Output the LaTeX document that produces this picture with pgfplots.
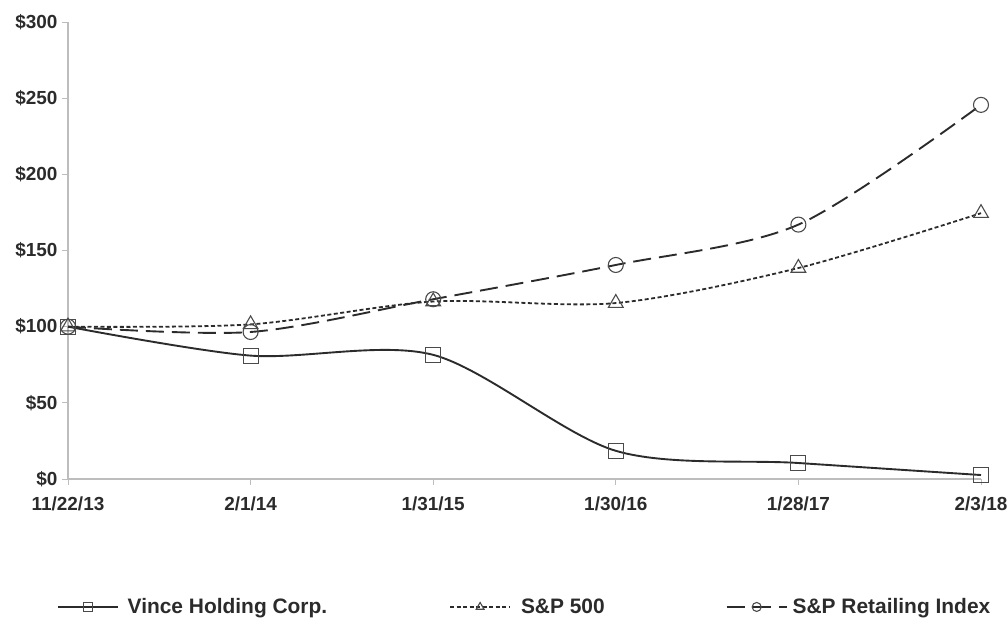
\documentclass[border=0pt]{standalone}
\usepackage{pgfplots}
\pgfplotsset{compat=1.18}
\usepackage{fontspec}
\setmainfont{Liberation Sans}
\definecolor{axisgray}{HTML}{BDBDBD}
\definecolor{ink}{HTML}{2B2B2B}
\definecolor{markgray}{HTML}{4A4A4A}
\begin{document}
\begin{tikzpicture}
\path[use as bounding box] (-68bp,-142bp) rectangle (940bp,479bp);
\begin{axis}[
  at={(0,0)}, anchor=south west,
  scale only axis,
  width=913bp, height=457bp,
  xmin=0, xmax=5, ymin=0, ymax=300,
  xtick={0,...,5},
  xticklabels={11/22/13,2/1/14,1/31/15,1/30/16,1/28/17,2/3/18},
  ytick={0,50,...,300},
  yticklabel={\$\pgfmathprintnumber{\tick}},
  /pgf/number format/assume math mode=true,
  axis x line*=bottom, axis y line*=left,
  axis line style={axisgray, line width=1.3pt, -},
  tick style={axisgray, line width=1pt},
  major tick length=6bp,
  xtick align=outside, ytick align=outside,
  ticklabel style={font=\fontsize{19}{21}\selectfont\bfseries, text=ink},
  xticklabel style={yshift=-8bp},
  yticklabel style={xshift=-1bp},
  clip=false,
  legend columns=3,
  legend style={at={(-0.0125,-0.28)}, anchor=west, draw=none, fill=none,
    inner sep=0pt, nodes={inner sep=0pt},
    font=\fontsize{21}{24}\selectfont\bfseries, text=ink,
    /tikz/column 1/.style={column sep=9bp},
    /tikz/column 2/.style={column sep=122bp},
    /tikz/column 3/.style={column sep=10bp},
    /tikz/column 4/.style={column sep=121bp},
    /tikz/column 5/.style={column sep=5bp}},
  legend image code/.code={
    \draw[#1, mark=none] (0bp,0bp) -- (60bp,0bp);
    \draw[#1, mark size=4.5bp] plot coordinates {(30bp,0bp)};
  },
]
\addplot[ink, line width=1.9pt, smooth, mark=square, mark size=7.5bp,
  mark options={solid, draw=markgray, line width=1.1pt, fill=none}]
  coordinates {(0,100) (1,81) (2,81.5) (3,18.5) (4,10.5) (5,2.6)};
\addplot[ink, line width=1.8pt, smooth, dash pattern=on 4bp off 2.5bp,
  mark=triangle, mark size=8.5bp,
  mark options={solid, draw=markgray, line width=1.1pt, fill=none}]
  coordinates {(0,100) (1,101.5) (2,116.5) (3,115.5) (4,138.5) (5,174.5)};
\addplot[ink, line width=1.9pt, smooth, dash pattern=on 18bp off 8bp,
  mark=o, mark size=7.5bp,
  mark options={solid, draw=markgray, line width=1.1pt, fill=none}]
  coordinates {(0,100) (1,96.5) (2,118) (3,140.5) (4,167) (5,245.6)};
\legend{Vince Holding Corp., S\&P 500, S\&P Retailing Index}
\end{axis}
\end{tikzpicture}
\end{document}
